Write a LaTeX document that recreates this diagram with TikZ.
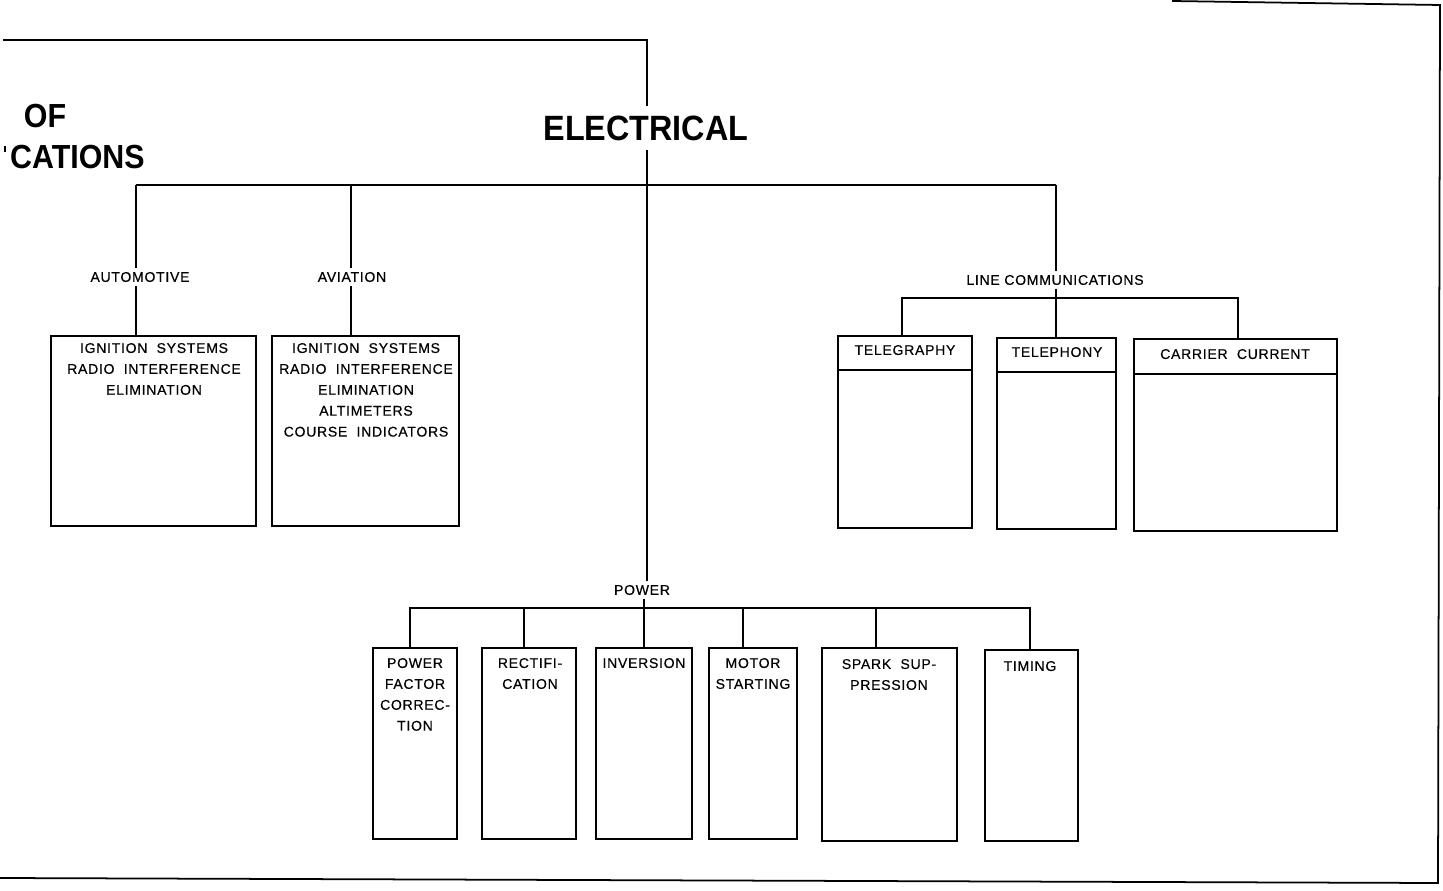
\documentclass[tikz,border=0pt]{standalone}
\usepackage{fontspec}
\setmainfont{Liberation Sans}
\newfontfamily\labfont[LetterSpace=5,FakeBold=0.4]{Liberation Sans}
\newfontfamily\titfont[FakeStretch=0.92]{Liberation Sans}
\newfontfamily\sidefont[FakeStretch=0.91]{Liberation Sans}
\usetikzlibrary{calc}
\tikzset{
  lab/.style={font=\labfont\fontsize{8}{11.9}\selectfont, align=center, inner sep=2pt},
  boxtxt/.style={font=\labfont\fontsize{8}{11.9}\selectfont, align=center, inner sep=1pt, anchor=north},
  bigtitle/.style={font=\titfont\bfseries\fontsize{20}{24}\selectfont, inner sep=5pt},
  sidetitle/.style={font=\sidefont\bfseries\fontsize{19}{22}\selectfont, inner sep=0pt},
  box/.style={draw, line width=1pt, anchor=north, inner sep=0pt},
  wire/.style={line width=0.7pt},
  border/.style={line width=1pt}
}
\begin{document}
\begin{tikzpicture}[x=0.02cm,y=-0.02cm]
\useasboundingbox (0,0) rectangle (1443,891);

% titles
\node[bigtitle] (elec) at (646,128) {ELECTRICAL};
\node[sidetitle] (of) at (45,116) {OF};
\node[sidetitle, anchor=east] (cat) at (145,157) {CATIONS};
\draw[line width=1.2pt] (5,146) -- (5,152);

% border
\coordinate (tl) at (3,40);
\coordinate (tc) at (647,40);
\coordinate (tr0) at (1172,1);
\coordinate (tr) at (1440,5);
\coordinate (br) at (1438,883);
\coordinate (bl) at (0,878);
\draw[border] (tl) -- (tc) -- (tc |- elec.north);
\draw[border] (tr0) -- (tr) -- (br) -- (bl);

% level 1 labels
\node[lab] (auto) at (140,277) {AUTOMOTIVE};
\node[lab] (avia) at (352,277) {AVIATION};
\node[lab] (lc) at (1055,280) {LINE COMMUNICATIONS};
\node[lab] (power) at (642,590) {POWER};

% main bus
\coordinate (b1) at (136,185);
\coordinate (b2) at (351,185);
\coordinate (b3) at (1056,185);
\draw[wire] (b1) -- (b3);
\draw[wire] (tc |- elec.south) -- (tc |- power.north);
\draw[wire] (b1) -- (b1 |- auto.north);
\draw[wire] (b2) -- (b2 |- avia.north);
\draw[wire] (b3) -- (b3 |- lc.north);

% automotive & aviation boxes
\node[box, minimum width=4.10cm, minimum height=3.80cm] (autobox) at (153.5,335) {};
\node[boxtxt] (autotxt) at (154,341) {IGNITION\ \ SYSTEMS\\RADIO\ \ INTERFERENCE\\ELIMINATION};
\node[box, minimum width=3.74cm, minimum height=3.80cm] (aviabox) at (365.5,335) {};
\node[boxtxt] (aviatxt) at (366,341) {IGNITION\ \ SYSTEMS\\RADIO\ \ INTERFERENCE\\ELIMINATION\\ALTIMETERS\\COURSE\ \ INDICATORS};
\draw[wire] (b1 |- auto.south) -- (b1 |- autobox.north);
\draw[wire] (b2 |- avia.south) -- (b2 |- aviabox.north);

% line communications
\node[box, minimum width=2.68cm, minimum height=3.84cm] (teleg) at (905,335) {};
\node[box, minimum width=2.38cm, minimum height=3.82cm] (telep) at (1056.5,337) {};
\node[box, minimum width=4.06cm, minimum height=3.84cm] (carr) at (1235.5,338) {};
\draw[line width=1pt] ($(teleg.north west)+(0,35)$) -- ($(teleg.north east)+(0,35)$);
\draw[line width=1pt] ($(telep.north west)+(0,35)$) -- ($(telep.north east)+(0,35)$);
\draw[line width=1pt] ($(carr.north west)+(0,36)$) -- ($(carr.north east)+(0,36)$);
\node[boxtxt] (telegtxt) at (905,343) {TELEGRAPHY};
\node[boxtxt] (teleptxt) at (1057,345) {TELEPHONY};
\node[boxtxt] (carrtxt) at (1235,347) {CARRIER\ \ CURRENT};
\coordinate (l1) at (902,298);
\coordinate (l2) at (1056,298);
\coordinate (l3) at (1238,298);
\draw[wire] (l1 |- teleg.north) -- (l1) -- (l3) -- (l3 |- carr.north);
\draw[wire] (l2 |- lc.south) -- (l2 |- telep.north);

% power boxes
\node[box, minimum width=1.68cm, minimum height=3.82cm] (pfc) at (415,647) {};
\node[box, minimum width=1.88cm, minimum height=3.82cm] (rect) at (529,647) {};
\node[box, minimum width=1.92cm, minimum height=3.82cm] (inv) at (644,647) {};
\node[box, minimum width=1.76cm, minimum height=3.82cm] (mot) at (753,647) {};
\node[box, minimum width=2.70cm, minimum height=3.86cm] (spark) at (889.5,647) {};
\node[box, minimum width=1.86cm, minimum height=3.82cm] (timing) at (1031.5,649) {};
\node[boxtxt] (pfctxt) at (415,656) {POWER\\FACTOR\\CORREC-\\TION};
\node[boxtxt] (recttxt) at (530,656) {RECTIFI-\\CATION};
\node[boxtxt] (invtxt) at (644,656) {INVERSION};
\node[boxtxt] (mottxt) at (753,656) {MOTOR\\STARTING};
\node[boxtxt] (sparktxt) at (889,657) {SPARK\ \ SUP-\\PRESSION};
\node[boxtxt] (timingtxt) at (1030,659) {TIMING};
\coordinate (p1) at (410,608);
\coordinate (p2) at (524,608);
\coordinate (p3) at (644,608);
\coordinate (p4) at (743,608);
\coordinate (p5) at (876,608);
\coordinate (p6) at (1030,608);
\draw[wire] (p1 |- pfc.north) -- (p1) -- (p6) -- (p6 |- timing.north);
\draw[wire] (p3 |- power.south) -- (p3 |- inv.north);
\draw[wire] (p2) -- (p2 |- rect.north);
\draw[wire] (p4) -- (p4 |- mot.north);
\draw[wire] (p5) -- (p5 |- spark.north);
\end{tikzpicture}
\end{document}
